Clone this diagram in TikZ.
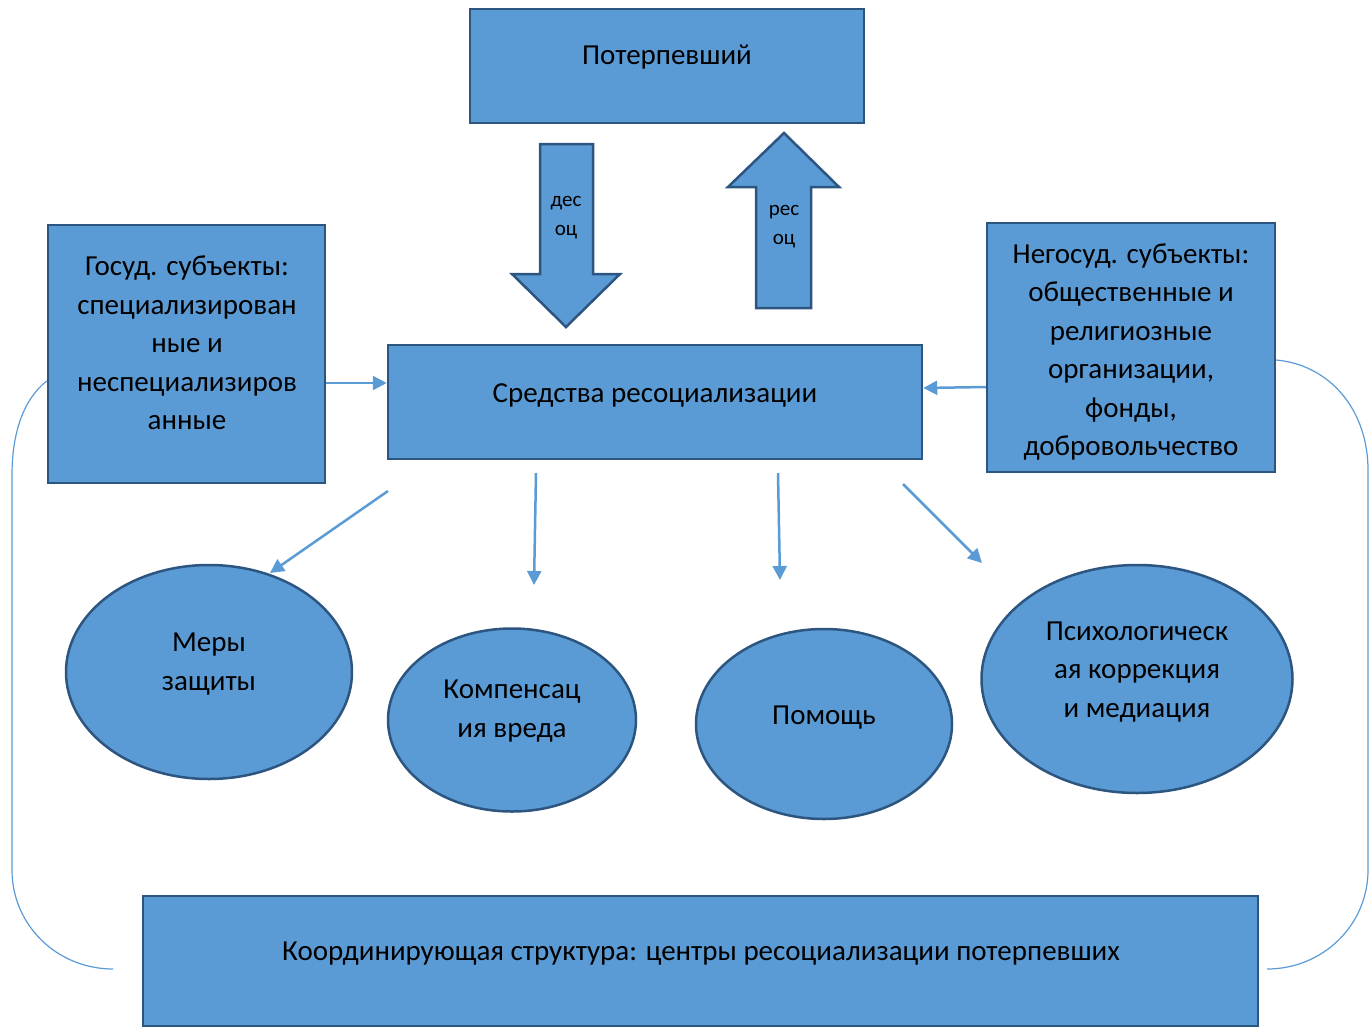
\documentclass[tikz,border=0pt]{standalone}
\usepackage{fontspec}
\setmainfont{Carlito}
\usetikzlibrary{shapes.geometric,arrows.meta}
\definecolor{fillblue}{HTML}{5B9BD5}
\definecolor{edgeblue}{HTML}{2C5580}
\definecolor{lineblue}{HTML}{5B9BD5}
\tikzset{
  box/.style={draw=edgeblue,fill=fillblue,line width=2.5pt,inner sep=0pt},
  oval/.style={ellipse,draw=edgeblue,fill=fillblue,line width=2.5pt,inner sep=0pt},
  txt/.style={align=center,inner sep=0pt,font=\fontsize{29}{38.5}\selectfont},
  blockarrow/.style={draw=edgeblue,fill=fillblue,line width=2.5pt,line join=miter},
  smalltxt/.style={align=center,font=\fontsize{21}{29}\selectfont,inner sep=0pt},
  conn/.style={draw=lineblue,line width=2.5pt,-{Triangle[length=14pt,width=14pt]}},
  loop/.style={draw=lineblue,line width=1.2pt}
}
\begin{document}
\begin{tikzpicture}[x=1pt,y=-1pt]
\useasboundingbox (0,0) rectangle (1369,1028);
% boxes
\node[box,minimum width=394pt,minimum height=114pt] (vict) at (667,66) {};
\node[txt] (victT) at (667,57) {Потерпевший};
\node[box,minimum width=277pt,minimum height=258pt] (gos) at (186.5,354) {};
\node[txt] (gosT) at (187,343) {Госуд. субъекты:\\специализирован\\ные и\\неспециализиров\\анные};
\node[box,minimum width=534pt,minimum height=114pt] (sred) at (655,402) {};
\node[txt] (sredT) at (655,395) {Средства ресоциализации};
\node[box,minimum width=288pt,minimum height=249pt] (neg) at (1131,347.5) {};
\node[txt] (negT) at (1131,352) {Негосуд. субъекты:\\общественные и\\религиозные\\организации,\\фонды,\\добровольчество};
\node[box,minimum width=1115pt,minimum height=130pt] (koord) at (700.5,961) {};
\node[txt] (koordT) at (701,954) {Координирующая структура: центры ресоциализации потерпевших};
% block arrows
\draw[blockarrow] (540,144) -- (593,144) -- (593,274) -- (620,274) -- (566,327) -- (512,274) -- (540,274) -- cycle;
\node[smalltxt] (des) at (566,218) {дес\\оц};
\draw[blockarrow] (756,308) -- (811,308) -- (811,187) -- (839,187) -- (784,133) -- (728,187) -- (756,187) -- cycle;
\node[smalltxt] (res) at (784,227) {рес\\оц};
% ovals
\node[oval,minimum width=286pt,minimum height=214pt] (mery) at (209,672) {};
\node[txt] (meryT) at (209,664) {Меры\\защиты};
\node[oval,minimum width=248pt,minimum height=183pt] (komp) at (512,720) {};
\node[txt] (kompT) at (512,711) {Компенсац\\ия вреда};
\node[oval,minimum width=256pt,minimum height=190pt] (pom) at (824,724) {};
\node[txt] (pomT) at (824,718) {Помощь};
\node[oval,minimum width=311pt,minimum height=228pt] (psy) at (1137,679) {};
\node[txt] (psyT) at (1137,672) {Психологическ\\ая коррекция\\и медиация};
% connectors
\coordinate (s1) at (388,491);
\coordinate (s2) at (536,473);
\coordinate (s3) at (778,473);
\coordinate (s4) at (903,484);
\coordinate (e1) at (270,573);
\coordinate (e2) at (534,585);
\coordinate (e3) at (780,580);
\coordinate (e4) at (982,563);
\draw[conn] (gos.east |- 0,383) -- (sred.west |- 0,383);
\draw[conn] (neg.west |- 0,387) -- (sred.east |- 0,388);
\draw[conn] (s1) -- (e1);
\draw[conn] (s2) -- (e2);
\draw[conn] (s3) -- (e3);
\draw[conn] (s4) -- (e4);
% loops
\coordinate (lb) at (113,969);
\coordinate (rb) at (1267,969);
\draw[loop] (gos.west |- 0,381) .. controls (25,398) and (12,430) .. (12,475) -- (12,870) .. controls (12,925) and (57,969) .. (lb);
\draw[loop] (neg.east |- 0,360) .. controls (1330,365) and (1368,410) .. (1368,470) -- (1368,870) .. controls (1368,925) and (1323,969) .. (rb);
\end{tikzpicture}
\end{document}
